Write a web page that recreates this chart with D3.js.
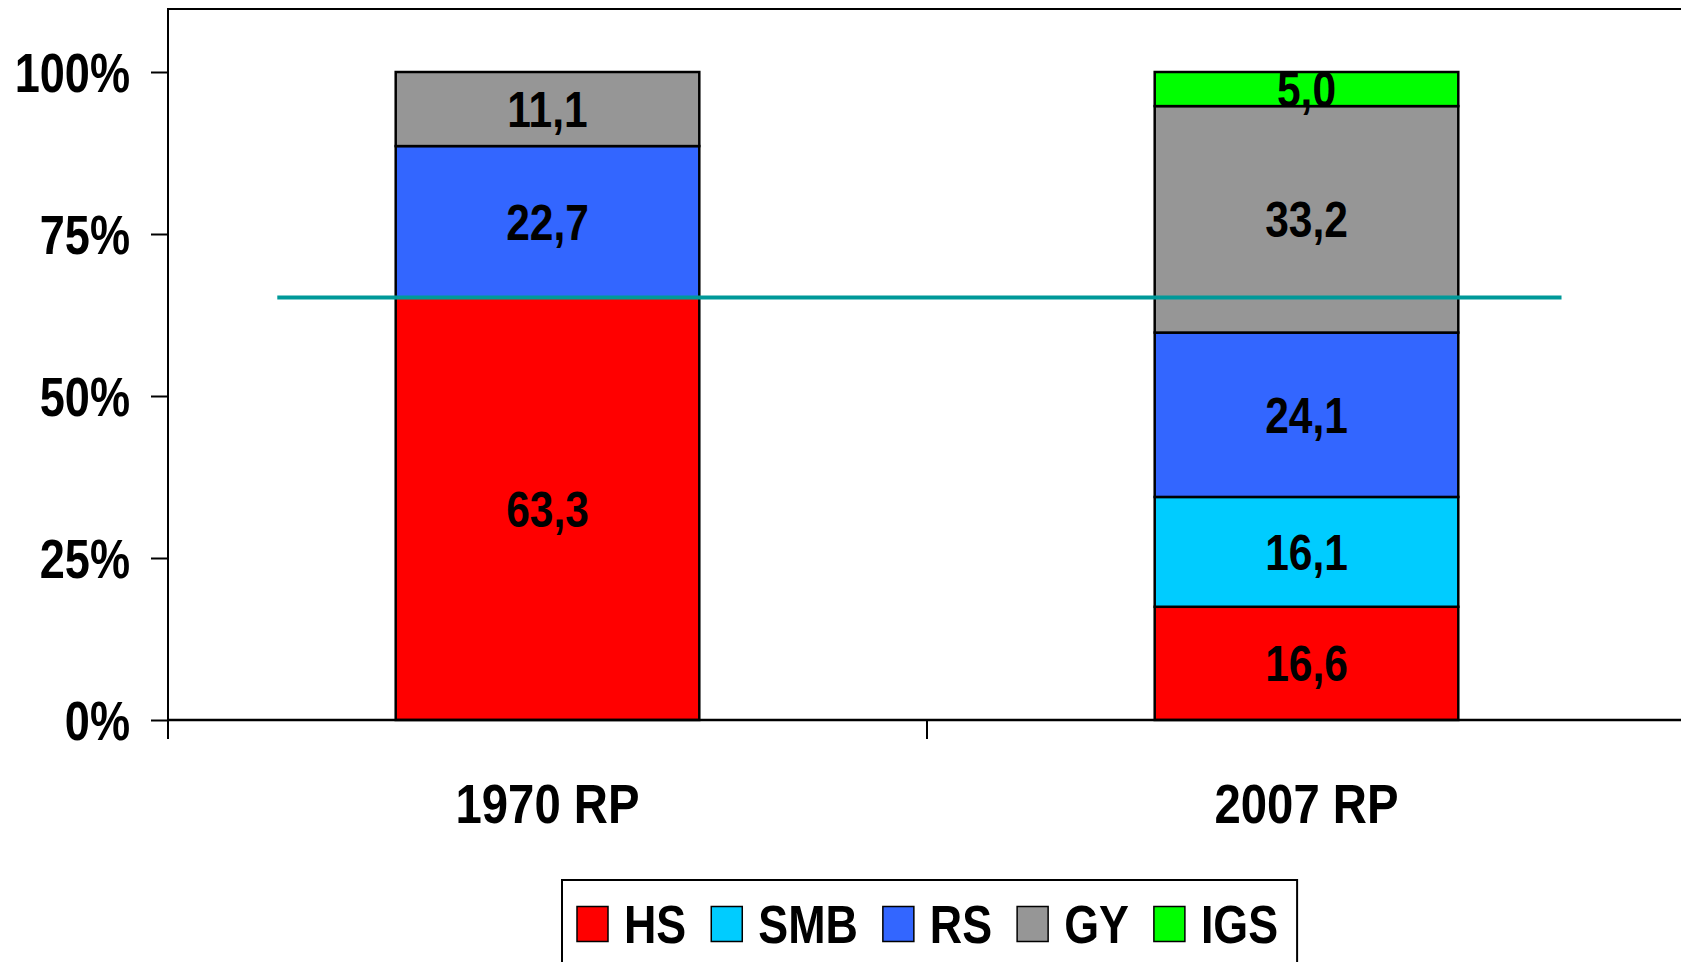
<!DOCTYPE html>
<html>
<head>
<meta charset="utf-8">
<script src="https://cdn.jsdelivr.net/npm/d3@7"></script>
<style>
  html, body { margin: 0; padding: 0; background: #ffffff; overflow: hidden; }
  svg { display: block; }
  text { font-family: 'Liberation Sans', Arial, sans-serif; font-weight: bold; fill: #000; }
</style>
</head>
<body>
<svg id="chart" width="1681" height="962"></svg>
<script>
// ---- data ----
const categories = ["1970 RP", "2007 RP"];
const seriesNames = ["HS", "SMB", "RS", "GY", "IGS"];
const HS  = [63.3, 16.6];
const SMB = [0, 16.1];
const RS  = [22.7, 24.1];
const GY  = [11.1, 33.2];
const IGS = [0, 5.0];
const seriesColors = ["#FF0000", "#00CCFF", "#3366FF", "#969696", "#00FF00"];
const yTicks = [0, 0.25, 0.5, 0.75, 1];
const refLevel = [0.652];          // horizontal reference line (share)
const refExtent = [0.072, 0.918];  // line span as fraction of the plot width

// ---- build table ----
const seriesValues = [HS, SMB, RS, GY, IGS];
const table = categories.map((c, i) => {
  const row = { cat: c };
  seriesNames.forEach((s, k) => row[s] = seriesValues[k][i]);
  return row;
});

// condensed look (Arial Narrow substitute)
function narrow(sel, f) {
  sel.each(function () {
    const t = d3.select(this);
    const tx = +t.attr("x") || 0, ty = +t.attr("y") || 0;
    t.attr("x", 0).attr("y", 0)
     .attr("transform", `translate(${tx},${ty}) scale(${f},1)`);
  });
}

const svg = d3.select("#chart");
const plot = { left: 168, right: 1686, top: 9, bottom: 720, y100: 72 };

const x = d3.scaleBand().domain(categories)
  .range([plot.left, plot.right]).paddingInner(0.6).paddingOuter(0.3);
const y = d3.scaleLinear().domain([0, 1]).range([plot.bottom, plot.y100]);
const xFrac = d3.scaleLinear().domain([0, 1]).range([plot.left, plot.right]);
const color = d3.scaleOrdinal().domain(seriesNames).range(seriesColors);

const stack = d3.stack().keys(seriesNames).offset(d3.stackOffsetExpand);
const stacked = stack(table);

const fmt = d3.formatLocale({ decimal: ",", thousands: ".", grouping: [3], currency: ["", ""] }).format(".1f");

// plot frame (top + left + right)
svg.append("path")
  .attr("d", `M${plot.left},${plot.bottom + 19} L${plot.left},${plot.top} L${plot.right},${plot.top} L${plot.right},${plot.bottom}`)
  .attr("fill", "none").attr("stroke", "#000").attr("stroke-width", 2);

// bars
const layers = svg.append("g").selectAll("g").data(stacked).join("g")
  .attr("fill", d => color(d.key));
layers.selectAll("rect").data(d => d.map(v => ({ key: d.key, v, cat: v.data.cat })))
  .join("rect")
  .filter(d => d.v[1] - d.v[0] > 0)
  .attr("x", d => x(d.cat))
  .attr("width", x.bandwidth())
  .attr("y", d => y(d.v[1]))
  .attr("height", d => y(d.v[0]) - y(d.v[1]))
  .attr("stroke", "#000").attr("stroke-width", 2.5);

// data labels
const labels = svg.append("g");
stacked.forEach(layer => {
  layer.forEach(v => {
    const val = v.data[layer.key];
    if (val > 0) {
      labels.append("text")
        .attr("x", x(v.data.cat) + x.bandwidth() / 2)
        .attr("y", y((v[0] + v[1]) / 2))
        .attr("dy", "0.36em")
        .attr("text-anchor", "middle")
        .attr("font-size", 50)
        .text(fmt(val));
    }
  });
});
narrow(labels.selectAll("text"), 0.85);

// reference line
svg.append("g").selectAll("line").data(refLevel).join("line")
  .attr("x1", xFrac(refExtent[0])).attr("x2", xFrac(refExtent[1]))
  .attr("y1", d => y(d)).attr("y2", d => y(d))
  .attr("stroke", "#009999").attr("stroke-width", 4);

// y axis
const yAxis = svg.append("g").attr("transform", `translate(${plot.left},0)`)
  .call(d3.axisLeft(y).tickValues(yTicks).tickFormat(d3.format(".0%")).tickSize(17).tickPadding(21));
yAxis.select(".domain").remove();
yAxis.selectAll(".tick line").attr("stroke", "#000").attr("stroke-width", 2);
yAxis.selectAll(".tick text").attr("font-size", 55).attr("font-family", null).attr("dy", "0.36em");
narrow(yAxis.selectAll(".tick text"), 0.82);

// x axis
const xAxis = svg.append("g").attr("transform", `translate(0,${plot.bottom})`)
  .call(d3.axisBottom(x).tickSize(0).tickPadding(64));
xAxis.select(".domain").attr("stroke", "#000").attr("stroke-width", 2.5)
  .attr("d", `M${plot.left},0H${plot.right}`);
xAxis.selectAll(".tick text").attr("font-size", 55).attr("font-family", null);
narrow(xAxis.selectAll(".tick text"), 0.86);
// category boundary ticks
const boundaries = categories.map(c => x(c) - x.step() * x.paddingOuter()).concat([plot.right]);
xAxis.append("g").selectAll("line").data(boundaries).join("line")
  .attr("x1", d => d).attr("x2", d => d).attr("y1", 0).attr("y2", 19)
  .attr("stroke", "#000").attr("stroke-width", 2);

// legend
const legend = svg.append("g");
const lgBox = legend.append("rect")
  .attr("fill", "#fff").attr("stroke", "#000").attr("stroke-width", 2);
const lgY = 924;
const LG_NARROW = 0.83;
let cx = 577;
seriesNames.forEach((s, k) => {
  legend.append("rect").attr("x", cx).attr("y", lgY - 17.5).attr("width", 31).attr("height", 35)
    .attr("fill", color(s)).attr("stroke", "#000").attr("stroke-width", 1.5);
  const t = legend.append("text").attr("x", cx + 47).attr("y", lgY).attr("dy", "0.36em")
    .attr("font-size", 54).text(s);
  const w = t.node().getComputedTextLength() * LG_NARROW;
  narrow(t, LG_NARROW);
  cx = cx + 47 + w + 25;
});
lgBox.attr("x", 562).attr("y", 880).attr("width", cx - 25 + 19 - 562).attr("height", 100);
</script>
</body>
</html>
